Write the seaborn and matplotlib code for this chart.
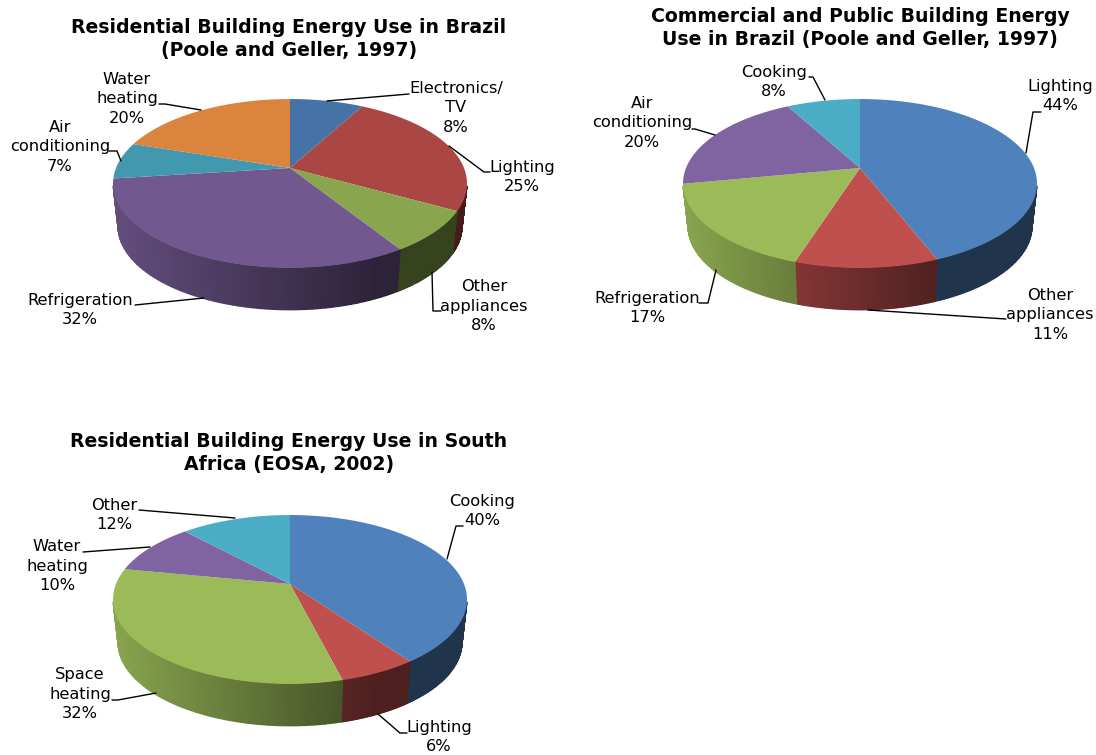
import matplotlib
matplotlib.use("Agg")
import matplotlib.pyplot as plt
import numpy as np
import seaborn as sns

W, H = 1096, 755

title_1 = "Residential Building Energy Use in Brazil\n(Poole and Geller, 1997)"
labels_1 = ["Electronics/\nTV", "Lighting", "Other\nappliances", "Refrigeration", "Air\nconditioning", "Water\nheating"]
values_1 = [8, 25, 8, 32, 7, 20]
colors_1 = ["#4572a7", "#aa4643", "#89a54e", "#71588f", "#4198af", "#db843d"]

title_2 = "Commercial and Public Building Energy\nUse in Brazil (Poole and Geller, 1997)"
labels_2 = ["Lighting", "Other\nappliances", "Refrigeration", "Air\nconditioning", "Cooking"]
values_2 = [44, 11, 17, 20, 8]
colors_2 = ["#4f81bd", "#c0504d", "#9bbb59", "#8064a2", "#4bacc6"]

title_3 = "Residential Building Energy Use in South\nAfrica (EOSA, 2002)"
labels_3 = ["Cooking", "Lighting", "Space\nheating", "Water\nheating", "Other"]
values_3 = [40, 6, 32, 10, 12]
colors_3 = ["#4f81bd", "#c0504d", "#9bbb59", "#8064a2", "#4bacc6"]

# label centre (x, y of middle line) and leader line, in picture pixels
label_pos_1 = [(456, 108), (522, 177), (484, 306), (80, 310), (60, 147), (127, 99)]
leaders_1 = [
    [(327, 101), (409, 94)],
    [(449, 146), (484, 172), (490, 172)],
    [(432, 272), (433, 311), (441, 311)],
    [(204, 298), (135, 305)],
    [(121, 161), (117, 151), (109, 151)],
    [(201, 110), (165, 104), (159, 104)],
]
label_pos_2 = [(1060, 96), (1050, 315), (647, 308), (642, 123), (774, 82)]
leaders_2 = [
    [(1026, 153), (1033, 112), (1041, 112)],
    [(868, 310), (1006, 319)],
    [(716, 270), (708, 303), (699, 303)],
    [(715, 135), (695, 129), (692, 129)],
    [(825, 100), (813, 77), (809, 77)],
]
label_pos_3 = [(482, 511), (439, 737), (80, 694), (57, 566), (114, 515)]
leaders_3 = [
    [(447, 559), (456, 526), (463, 526)],
    [(378, 714), (400, 733), (407, 733)],
    [(156, 693), (118, 700), (112, 700)],
    [(150, 547), (83, 552)],
    [(235, 518), (139, 510)],
]


def project(theta, cx, cy, shrink=1.0, drop=0.0, yshrink=1.0):
    # disc seen in perspective: the far half is squeezed, the near half stretched
    u = np.cos(np.radians(theta))
    v = -np.sin(np.radians(theta))
    den = 1 - 0.183 * v
    return cx + shrink * 174 * u / den, cy + yshrink * 81.6 * v / den + drop


def shade(x):
    # side wall gets darker going left to right, flat past the middle
    return np.interp(x, [-1, 0.5, 1], [0.88, 0.40, 0.40])


def draw_pie(rect, centre, values, labels, colors, title, title_xy, label_pos, leaders):
    x0, y0, x1, y1 = rect
    ax = fig.add_axes([x0 / W, 1 - y1 / H, (x1 - x0) / W, (y1 - y0) / H])
    wedges, _ = ax.pie(values, colors=sns.color_palette(colors), startangle=90, counterclock=False)
    cx, cy = centre
    angles = [(w.theta1 % 360, w.theta2 % 360, w.get_facecolor()) for w in wedges]
    for w in wedges:
        w.remove()

    # side wall first, only the part between the two silhouette points
    for t1, t2, col in angles:
        if t2 <= t1:
            t2 += 360
        lo, hi = max(t1, 192), min(t2, 348)
        if hi <= lo:
            continue
        th = np.linspace(lo, hi, 60)
        xt, yt = project(th, cx, cy)
        xb, yb = project(th, cx, cy, shrink=0.972, drop=43, yshrink=0.99)
        rgb = np.array(col[:3])[None, None, :] * shade((xt - cx) / 177)[None, :, None]
        ax.pcolormesh(np.array([xt, xb]), np.array([yt, yb]), np.repeat(rgb, 2, axis=0),
                      shading="gouraud", zorder=2)

    # top face
    for t1, t2, col in angles:
        if t2 <= t1:
            t2 += 360
        th = np.linspace(t1, t2, 120)
        xt, yt = project(th, cx, cy)
        ax.fill(np.r_[cx, xt], np.r_[cy, yt], color=col, lw=0, zorder=3)

    for (lx, ly), name, val in zip(label_pos, labels, values):
        ax.text(lx, ly, f"{name}\n{val}%", ha="center", va="center", fontsize=11.7,
                color="black", linespacing=1.36, zorder=5)
    for pts in leaders:
        xs, ys = zip(*pts)
        ax.plot(xs, ys, color="black", lw=1, zorder=4)

    ax.text(title_xy[0], title_xy[1], title, ha="center", va="center", fontsize=13.6, fontweight="bold",
            color="black", linespacing=1.29, zorder=5)
    ax.set_aspect("auto")
    ax.set_xlim(x0, x1)
    ax.set_ylim(y1, y0)
    ax.axis("off")


sns.set_theme(style="white")
plt.rcParams["font.family"] = ["DejaVu Sans"]

fig = plt.figure(figsize=(W / 100, H / 100), dpi=100, facecolor="white")

draw_pie((0, 0, 570, 380), (290, 168), values_1, labels_1, colors_1, title_1, (289, 39), label_pos_1, leaders_1)
draw_pie((570, 0, 1096, 380), (860, 168), values_2, labels_2, colors_2, title_2, (860, 28), label_pos_2, leaders_2)
draw_pie((0, 415, 570, 755), (290, 584), values_3, labels_3, colors_3, title_3, (289, 453), label_pos_3, leaders_3)

fig.savefig("out.png", dpi=100)
